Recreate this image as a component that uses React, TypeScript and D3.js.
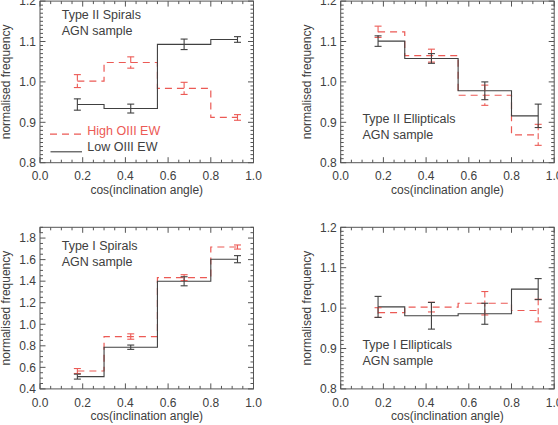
import React from "react";
import * as d3 from "d3";

// ---------- data ----------
const binCenters = [0.175, 0.425, 0.675, 0.925];
const xTickValues = [0, 0.2, 0.4, 0.6, 0.8, 1.0];
const xMinorStep = 0.05;

// Type II Spirals
const t2sLow = [0.944, 0.934, 1.093, 1.105];
const t2sLowErr = [0.014, 0.011, 0.013, 0.007];
const t2sHigh = [1.002, 1.048, 0.984, 0.912];
const t2sHighErr = [0.016, 0.014, 0.015, 0.007];

// Type II Ellipticals
const t2eLow = [1.101, 1.058, 0.978, 0.916];
const t2eLowErr = [0.013, 0.012, 0.022, 0.029];
const t2eHigh = [1.124, 1.065, 0.967, 0.869];
const t2eHighErr = [0.014, 0.016, 0.025, 0.026];

// Type I Spirals
const t1sLow = [0.514, 0.787, 1.399, 1.604];
const t1sLowErr = [0.023, 0.02, 0.042, 0.033];
const t1sHigh = [0.566, 0.886, 1.433, 1.717];
const t1sHighErr = [0.023, 0.025, 0.027, 0.019];

// Type I Ellipticals
const t1eLow = [1.003, 0.981, 0.986, 1.047];
const t1eLowErr = [0.026, 0.033, 0.026, 0.026];
const t1eHigh = [0.989, 1.0025, 1.012, 0.994];
const t1eHighErr = [0.012, 0.012, 0.029, 0.028];

const panelNames = ["Type II Spirals", "Type II Ellipticals", "Type I Spirals", "Type I Ellipticals"];
const sampleLabel = "AGN sample";
const legendLabels = ["High OIII EW", "Low OIII EW"];
const xTitle = "cos(inclination angle)";
const yTitle = "normalised frequency";

const yTicksNarrow = [0.8, 0.9, 1.0, 1.1, 1.2];
const yDomainNarrow = [0.8, 1.2];
const yTicksWide = [0.4, 0.6, 0.8, 1.0, 1.2, 1.4, 1.6, 1.8];
const yDomainWide = [0.4, 1.9];

// ---------- style ----------
const RED = "#ec5a55";
const DARK = "#404040";
const FRAME = "#555";
const FONT = "'Liberation Sans', Arial, Helvetica, sans-serif";
const FS = 12;
const LFS = 12.5;
const DASH = "7,5";

type PanelProps = {
  left: number;
  top: number;
  width: number;
  height: number;
  yDomain: number[];
  yTicks: number[];
  yMinorStep: number;
  low: number[];
  lowErr: number[];
  high: number[];
  highErr: number[];
  name: string;
  labelDy: number;
  legend?: boolean;
};

function Panel(p: PanelProps) {
  const x = d3.scaleLinear().domain([0, 1]).range([p.left, p.left + p.width]);
  const y = d3.scaleLinear().domain(p.yDomain).range([p.top + p.height, p.top]);
  const line = d3
    .line<number>()
    .x((_, i) => x(binCenters[i]))
    .y((d) => y(d))
    .curve(d3.curveStep);

  const xMinor = d3.range(0, 1 + 1e-9, xMinorStep);
  const yMinor = d3.range(p.yDomain[0], p.yDomain[1] + 1e-9, p.yMinorStep);
  const majL = 5.5;
  const minL = 3;
  const bottom = p.top + p.height;
  const right = p.left + p.width;
  const isMajorX = (v: number) => xTickValues.some((t) => Math.abs(t - v) < 1e-6);
  const isMajorY = (v: number) => p.yTicks.some((t) => Math.abs(t - v) < 1e-6);

  const errBars = (vals: number[], errs: number[], color: string, dashed: boolean) =>
    vals.map((v, i) => {
      const cx = x(binCenters[i]);
      const y1 = y(v + errs[i]);
      const y2 = y(v - errs[i]);
      return (
        <g key={i} stroke={color} strokeWidth={1.1}>
          <line x1={cx} x2={cx} y1={y1} y2={y2} strokeDasharray={dashed ? "6,3" : undefined} />
          <line x1={cx - 3.5} x2={cx + 3.5} y1={y1} y2={y1} />
          <line x1={cx - 3.5} x2={cx + 3.5} y1={y2} y2={y2} />
        </g>
      );
    });

  const labelX = p.left + 21.7;
  const labelY = p.top + p.labelDy;

  return (
    <g>
      {/* frame */}
      <rect x={p.left} y={p.top} width={p.width} height={p.height} fill="none" stroke={FRAME} strokeWidth={1} />
      {/* x ticks */}
      {xMinor.map((v, i) => {
        const L = isMajorX(v) ? majL : minL;
        return (
          <g key={"xt" + i} stroke={FRAME} strokeWidth={1}>
            <line x1={x(v)} x2={x(v)} y1={bottom} y2={bottom - L} />
            <line x1={x(v)} x2={x(v)} y1={p.top} y2={p.top + L} />
          </g>
        );
      })}
      {/* y ticks */}
      {yMinor.map((v, i) => {
        const L = isMajorY(v) ? majL : minL;
        return (
          <g key={"yt" + i} stroke={FRAME} strokeWidth={1}>
            <line x1={p.left} x2={p.left + L} y1={y(v)} y2={y(v)} />
            <line x1={right} x2={right - L} y1={y(v)} y2={y(v)} />
          </g>
        );
      })}
      {/* tick labels */}
      {xTickValues.map((v) => (
        <text key={"xl" + v} x={x(v)} y={bottom + 13.5 + 0.355 * FS} textAnchor="middle" fontSize={FS} fill={DARK} fontFamily={FONT}>
          {v.toFixed(1)}
        </text>
      ))}
      {p.yTicks.map((v) => (
        <text key={"yl" + v} x={p.left - 4} y={y(v) + 0.355 * FS} textAnchor="end" fontSize={FS} fill={DARK} fontFamily={FONT}>
          {v.toFixed(1)}
        </text>
      ))}
      {/* axis titles */}
      <text x={p.left + p.width / 2} y={bottom + 27 + 0.355 * FS} textAnchor="middle" fontSize={FS} fill={DARK} fontFamily={FONT}>
        {xTitle}
      </text>
      <text
        transform={`translate(${p.left - 34 + 0.355 * FS},${p.top + p.height / 2}) rotate(-90)`}
        textAnchor="middle"
        fontSize={FS}
        fill={DARK}
        fontFamily={FONT}
      >
        {yTitle}
      </text>
      {/* histograms */}
      <path d={line(p.high) || ""} fill="none" stroke={RED} strokeWidth={1.2} strokeDasharray={DASH} />
      <path d={line(p.low) || ""} fill="none" stroke={DARK} strokeWidth={1.1} />
      {errBars(p.high, p.highErr, RED, true)}
      {errBars(p.low, p.lowErr, DARK, false)}
      {/* panel labels */}
      <text x={labelX} y={labelY + 0.355 * LFS} fontSize={LFS} fill={DARK} fontFamily={FONT}>
        {p.name}
      </text>
      <text x={labelX} y={labelY + 16.3 + 0.355 * LFS} fontSize={LFS} fill={DARK} fontFamily={FONT}>
        {sampleLabel}
      </text>
      {p.legend && (
        <g>
          <line x1={p.left + 10} x2={p.left + 42} y1={p.top + 133} y2={p.top + 133} stroke={RED} strokeWidth={1.2} strokeDasharray={DASH} />
          <text x={p.left + 47.3} y={p.top + 129.7 + 0.355 * LFS} fontSize={LFS} fill={RED} fontFamily={FONT}>
            {legendLabels[0]}
          </text>
          <line x1={p.left + 10.5} x2={p.left + 42} y1={p.top + 150.7} y2={p.top + 150.7} stroke={DARK} strokeWidth={1.1} />
          <text x={p.left + 47.3} y={p.top + 145.7 + 0.355 * LFS} fontSize={LFS} fill={DARK} fontFamily={FONT}>
            {legendLabels[1]}
          </text>
        </g>
      )}
    </g>
  );
}

export default function App() {
  const W = 558;
  const H = 425;
  const pw = 213.5;
  const ph = 161.6;
  const lefts = [40, 340.7];
  const tops = [1.1, 227.3];
  return (
    <svg width={W} height={H} style={{ position: "absolute", left: 0, top: 0, background: "#fff" }}>
      <rect x={0} y={0} width={W} height={H} fill="#fff" />
      <Panel left={lefts[0]} top={tops[0]} width={pw} height={ph} yDomain={yDomainNarrow} yTicks={yTicksNarrow} yMinorStep={0.01}
        low={t2sLow} lowErr={t2sLowErr} high={t2sHigh} highErr={t2sHighErr} name={panelNames[0]} labelDy={13} legend />
      <Panel left={lefts[1]} top={tops[0]} width={pw} height={ph} yDomain={yDomainNarrow} yTicks={yTicksNarrow} yMinorStep={0.01}
        low={t2eLow} lowErr={t2eLowErr} high={t2eHigh} highErr={t2eHighErr} name={panelNames[1]} labelDy={117.3} />
      <Panel left={lefts[0]} top={tops[1]} width={pw} height={ph} yDomain={yDomainWide} yTicks={yTicksWide} yMinorStep={0.05}
        low={t1sLow} lowErr={t1sLowErr} high={t1sHigh} highErr={t1sHighErr} name={panelNames[2]} labelDy={18} />
      <Panel left={lefts[1]} top={tops[1]} width={pw} height={ph} yDomain={yDomainNarrow} yTicks={yTicksNarrow} yMinorStep={0.01}
        low={t1eLow} lowErr={t1eLowErr} high={t1eHigh} highErr={t1eHighErr} name={panelNames[3]} labelDy={117.3} />
    </svg>
  );
}
